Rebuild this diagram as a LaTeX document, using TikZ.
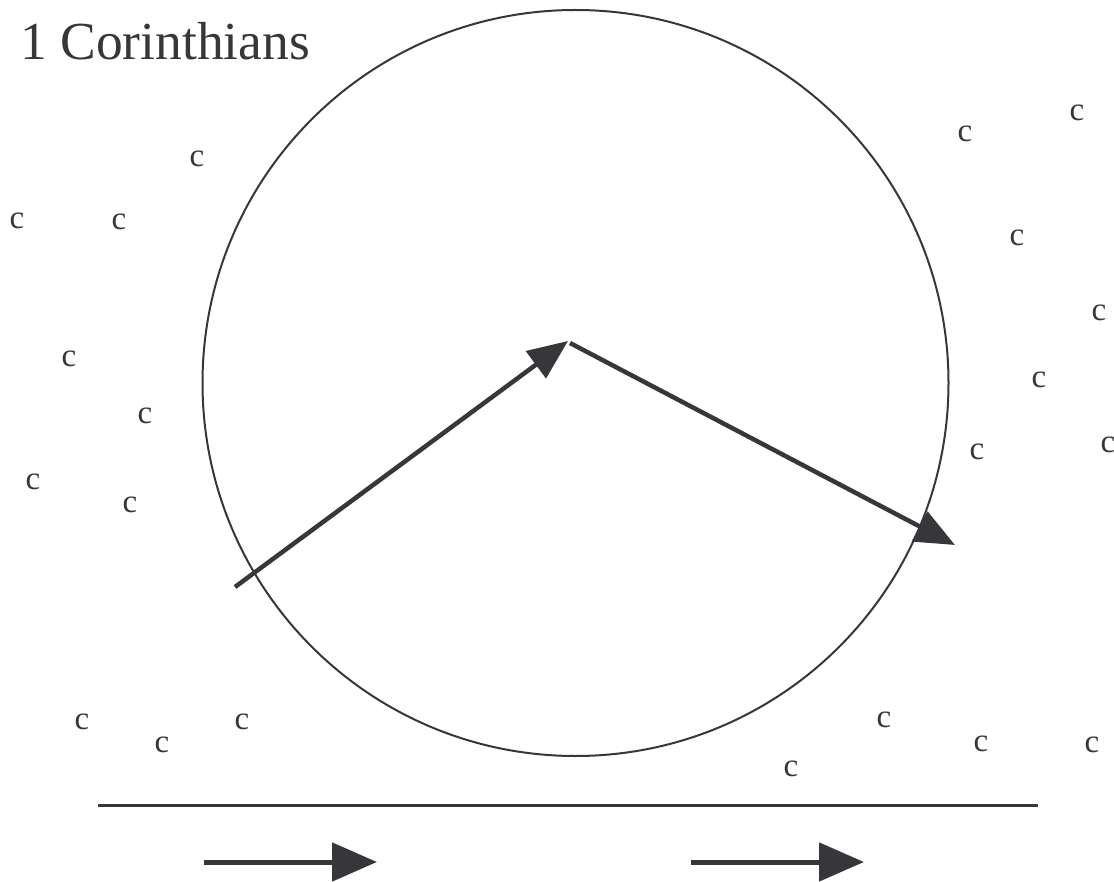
\documentclass[tikz,border=0pt]{standalone}
\usepackage{fontspec}
\setmainfont{Liberation Serif}
\usetikzlibrary{arrows.meta}
\definecolor{ink}{HTML}{37363B}
\tikzset{
  letter/.style={text=ink,font=\fontsize{33}{33}\selectfont,inner sep=0pt},
  bigarrow/.style={draw=ink,line width=4.5pt,-{Triangle[length=40pt,width=33pt]}},
  flowarrow/.style={draw=ink,line width=5pt,-{Triangle[length=45pt,width=38pt]}}
}
\begin{document}
\begin{tikzpicture}[x=1pt,y=-1pt]
\useasboundingbox (0,0) rectangle (1114,882);
\node[text=ink,font=\fontsize{53.5}{53.5}\selectfont,inner sep=0pt,anchor=base west] (title) at (20,60) {1 Corinthians};
\draw[ink,line width=2pt] (575.5,383) circle (373);
% the letters round the circle
\foreach \x/\y [count=\n] in {197/159,17/221,119/222,69/359,145/416,33/482,130/505,
  965/134,1077/113,1017/238,1099/313,1039/380,977/452,1108/445,
  82/722,162/745,242/722,884/720,981/744,1092/745,791/769}
  \node[letter] (c\n) at (\x,\y) {c};
% the two arrows inside
\coordinate (start) at (235,587);
\coordinate (mid) at (568,341);
\coordinate (midb) at (570,343);
\coordinate (out) at (955,545);
\draw[bigarrow] (start) -- (mid);
\draw[bigarrow] (midb) -- (out);
% ground and flow
\coordinate (groundl) at (98,805);
\coordinate (groundr) at (1038,805);
\draw[ink,line width=3pt] (groundl) -- (groundr);
\coordinate (fa) at (204,862); \coordinate (fb) at (377,862);
\coordinate (fc) at (691,862); \coordinate (fd) at (864,862);
\draw[flowarrow] (fa) -- (fb);
\draw[flowarrow] (fc) -- (fd);
\end{tikzpicture}
\end{document}
